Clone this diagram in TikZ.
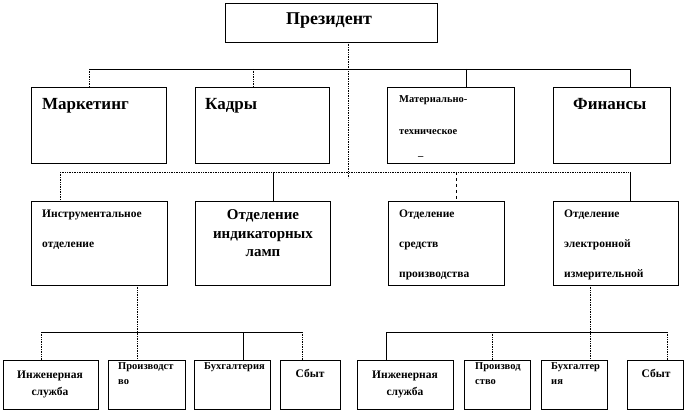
\documentclass[tikz,border=0pt]{standalone}
\usepackage{fontspec}
\setmainfont{Liberation Serif}
\begin{document}
\begin{tikzpicture}[x=1pt,y=-1pt,
  box/.style={draw=black, line width=0.6pt, inner sep=0pt, outer sep=0pt, anchor=north west},
  solidline/.style={draw=black, line width=0.6pt},
  dotline/.style={draw=black, line width=0.7pt, densely dotted},
  lbl/.style={inner sep=0pt, anchor=base west, font=\bfseries},
  clbl/.style={inner sep=0pt, anchor=base, font=\bfseries},
  big/.style={font=\bfseries\fontsize{17}{18}\selectfont},
  mid/.style={font=\bfseries\fontsize{15}{16}\selectfont},
  sml/.style={font=\bfseries\fontsize{11.5}{12}\selectfont},
  tny/.style={font=\bfseries\fontsize{10.5}{11}\selectfont}]
\useasboundingbox (0,0) rectangle (687,411);
% boxes
\node[box, minimum width=212pt, minimum height=39pt] (pres) at (225,3) {};
\node[box, minimum width=135pt, minimum height=76pt] (mark) at (31,87) {};
\node[box, minimum width=134pt, minimum height=76pt] (kad) at (195,87) {};
\node[box, minimum width=127pt, minimum height=76pt] (mat) at (387,87) {};
\node[box, minimum width=117pt, minimum height=76pt] (fin) at (553,87) {};
\node[box, minimum width=136pt, minimum height=84pt] (instr) at (31,201) {};
\node[box, minimum width=135pt, minimum height=84pt] (ind) at (195,201) {};
\node[box, minimum width=116pt, minimum height=84pt] (sred) at (388,201) {};
\node[box, minimum width=125pt, minimum height=84pt] (elek) at (553,201) {};
\node[box, minimum width=95pt, minimum height=49pt] (ingA) at (3,360) {};
\node[box, minimum width=77pt, minimum height=49pt] (proA) at (108,360) {};
\node[box, minimum width=76pt, minimum height=49pt] (buhA) at (194,360) {};
\node[box, minimum width=60pt, minimum height=49pt] (sbA) at (280,360) {};
\node[box, minimum width=96pt, minimum height=49pt] (ingB) at (357,360) {};
\node[box, minimum width=66pt, minimum height=49pt] (proB) at (464,360) {};
\node[box, minimum width=66pt, minimum height=49pt] (buhB) at (541,360) {};
\node[box, minimum width=56pt, minimum height=49pt] (sbB) at (627,360) {};
% texts
\node[clbl, big, font=\bfseries\fontsize{18}{19}\selectfont] (tpres) at (329,25) {Президент};
\node[lbl, big] (tmark) at (42,110) {Маркетинг};
\node[lbl, big] (tkad) at (205,110) {Кадры};
\node[lbl, big] (tfin) at (573,110) {Финансы};
\node[lbl, tny] (tmat1) at (399,103) {Материально-};
\node[lbl, tny] (tmat2) at (399,135) {техническое};
\node[lbl, tny] (tmat3) at (418,160) {–};
\node[lbl, sml] (tin1) at (42,218) {Инструментальное};
\node[lbl, sml] (tin2) at (42,248) {отделение};
\node[clbl, mid] (tind1) at (263,220) {Отделение};
\node[clbl, mid] (tind2) at (263,239) {индикаторных};
\node[clbl, mid] (tind3) at (263,257) {ламп};
\node[lbl, sml] (tsr1) at (399,218) {Отделение};
\node[lbl, sml] (tsr2) at (399,248) {средств};
\node[lbl, sml] (tsr3) at (399,278) {производства};
\node[lbl, sml] (tel1) at (564,218) {Отделение};
\node[lbl, sml] (tel2) at (564,248) {электронной};
\node[lbl, sml] (tel3) at (564,278) {измерительной};
\node[clbl, sml] (tingA1) at (50,378) {Инженерная};
\node[clbl, sml] (tingA2) at (50,395) {служба};
\node[lbl, tny] (tproA1) at (118,369) {Производст};
\node[lbl, tny] (tproA2) at (118,384) {во};
\node[lbl, tny] (tbuhA) at (204,369) {Бухгалтерия};
\node[clbl, sml] (tsbA) at (310,377) {Сбыт};
\node[clbl, sml] (tingB1) at (405,378) {Инженерная};
\node[clbl, sml] (tingB2) at (405,395) {служба};
\node[lbl, tny] (tproB1) at (475,369) {Производ};
\node[lbl, tny] (tproB2) at (475,384) {ство};
\node[lbl, tny] (tbuhB1) at (551,369) {Бухгалтер};
\node[lbl, tny] (tbuhB2) at (551,384) {ия};
\node[clbl, sml] (tsbB) at (656,377) {Сбыт};
% coordinates of buses
\coordinate (pv) at (348,42);
\coordinate (pend) at (348,178);
\coordinate (ta) at (89,69);
\coordinate (tb) at (253,69);
\coordinate (tc) at (466,69);
\coordinate (td) at (630,69);
\coordinate (sa) at (60,172);
\coordinate (sb) at (273,172);
\coordinate (sc) at (456,172);
\coordinate (sd) at (630,172);
\coordinate (la) at (41,332);
\coordinate (lb) at (137,332);
\coordinate (lc) at (243,332);
\coordinate (ld) at (302,332);
\coordinate (ra) at (386,332);
\coordinate (rb) at (492,332);
\coordinate (rc) at (590,332);
\coordinate (rd) at (667,332);
% connectors
\draw[dotline] (pv) -- (pend);
\draw[solidline] (ta) -- (td);
\draw[dotline] (ta) -- (ta |- mark.north);
\draw[dotline] (tb) -- (tb |- kad.north);
\draw[solidline] (tc) -- (tc |- mat.north);
\draw[solidline] (td) -- (td |- fin.north);
\draw[dotline] (sa) -- (sd);
\draw[dotline] (sa) -- (sa |- instr.north);
\draw[solidline] (sb) -- (sb |- ind.north);
\draw[dotline, dashed] (sc) -- (sc |- sred.north);
\draw[solidline] (sd) -- (sd |- elek.north);
\draw[dotline] (lb |- instr.south) -- (lb |- proA.north);
\draw[solidline] (la) -- (ld);
\draw[dotline] (la) -- (la |- ingA.north);
\draw[solidline] (lc) -- (lc |- buhA.north);
\draw[dotline] (ld) -- (ld |- sbA.north);
\draw[dotline] (rc |- elek.south) -- (rc |- buhB.north);
\draw[solidline] (ra) -- (rd);
\draw[solidline] (ra) -- (ra |- ingB.north);
\draw[dotline] (rb) -- (rb |- proB.north);
\draw[dotline] (rd) -- (rd |- sbB.north);
\end{tikzpicture}
\end{document}
